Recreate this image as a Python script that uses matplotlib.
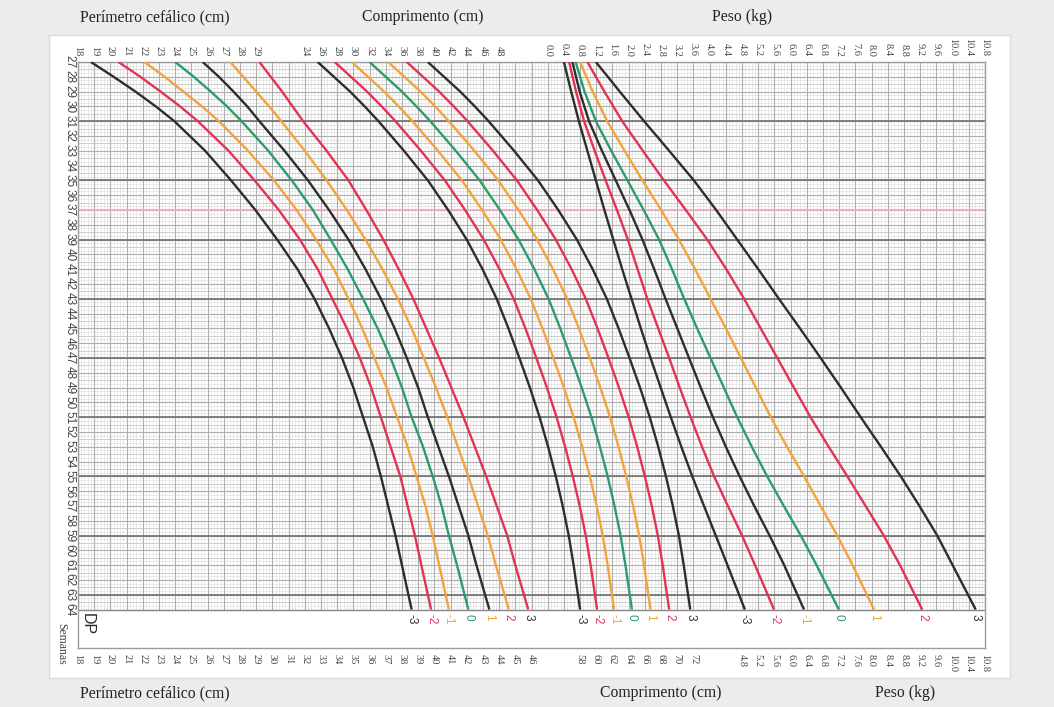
import numpy as np
import matplotlib
matplotlib.use('Agg')
import matplotlib.pyplot as plt
from matplotlib.patches import Rectangle

# ---------------- data ----------------
week_ticks = list(range(27, 65))
hc_top_ticks = list(range(18, 30))
hc_bottom_ticks = list(range(18, 47))
len_top_ticks = list(range(24, 49, 2))
len_bottom_ticks = list(range(58, 73, 2))
wt_top_ticks = [0.0, 0.4, 0.8, 1.2, 1.6, 2.0, 2.4, 2.8, 3.2, 3.6, 4.0, 4.4, 4.8, 5.2,
                5.6, 6.0, 6.4, 6.8, 7.2, 7.6, 8.0, 8.4, 8.8, 9.2, 9.6, 10.0, 10.4, 10.8]
wt_bottom_ticks = [4.8, 5.2, 5.6, 6.0, 6.4, 6.8, 7.2, 7.6, 8.0, 8.4, 8.8, 9.2, 9.6,
                   10.0, 10.4, 10.8]
sd_labels = ['-3', '-2', '-1', '0', '1', '2', '3']

# head circumference (cm) by week
hc_weeks = [27, 28, 29, 30, 31, 33, 35, 37, 39, 41, 43, 45, 47, 49, 51, 53, 55, 57, 59, 61, 64]
hc_m3 = [18.8, 20.2, 21.55, 22.8, 23.95, 25.85, 27.45, 28.95, 30.3, 31.55, 32.6, 33.5,
         34.3, 35.0, 35.6, 36.2, 36.7, 37.15, 37.6, 38.0, 38.6]
hc_m2 = [20.5, 21.85, 23.1, 24.3, 25.4, 27.3, 28.9, 30.4, 31.7, 32.8, 33.7, 34.6,
         35.4, 36.1, 36.7, 37.3, 37.9, 38.35, 38.8, 39.2, 39.8]
hc_m1 = [22.1, 23.35, 24.5, 25.65, 26.7, 28.5, 30.1, 31.5, 32.7, 33.8, 34.7, 35.55,
         36.3, 37.05, 37.7, 38.35, 38.9, 39.45, 39.9, 40.3, 40.9]
hc_0 = [24.0, 25.15, 26.2, 27.2, 28.1, 29.75, 31.2, 32.5, 33.6, 34.65, 35.6, 36.5,
        37.3, 38.0, 38.6, 39.3, 39.9, 40.45, 40.9, 41.4, 42.1]
hc_p1 = [25.7, 26.7, 27.6, 28.45, 29.2, 30.75, 32.2, 33.5, 34.7, 35.75, 36.7, 37.55,
         38.3, 39.0, 39.6, 40.25, 40.9, 41.5, 42.1, 42.6, 43.4]
hc_p2 = [27.4, 28.2, 29.0, 29.8, 30.55, 32.0, 33.35, 34.6, 35.75, 36.8, 37.75, 38.6,
         39.35, 40.1, 40.8, 41.45, 42.1, 42.7, 43.3, 43.8, 44.6]
hc_p3 = [29.2, 29.9, 30.6, 31.25, 31.9, 33.35, 34.7, 35.8, 36.85, 37.8, 38.7, 39.5,
         40.3, 41.05, 41.8, 42.5, 43.2, 43.85, 44.5, 45.0, 45.8]

# length (cm) by week
len_weeks = [27, 28, 29, 30, 31, 33, 35, 37, 39, 41, 43, 45, 47, 49, 51, 53, 55, 57, 59, 61, 64]
len_m3 = [25.6, 27.6, 29.6, 31.4, 33.1, 36.25, 39.2, 41.7, 44.0, 45.95, 47.7, 49.15,
          50.5, 51.8, 53.0, 54.05, 55.0, 55.85, 56.6, 57.2, 58.0]
len_m2 = [27.7, 29.7, 31.7, 33.5, 35.2, 38.35, 41.3, 43.8, 46.1, 48.05, 49.8, 51.25,
          52.6, 53.9, 55.1, 56.15, 57.1, 57.95, 58.7, 59.3, 60.1]
len_m1 = [29.8, 31.8, 33.8, 35.6, 37.3, 40.45, 43.4, 45.9, 48.2, 50.15, 51.9, 53.35,
          54.7, 56.0, 57.2, 58.25, 59.2, 60.05, 60.8, 61.4, 62.2]
len_0 = [32.0, 34.0, 36.0, 37.8, 39.5, 42.65, 45.6, 48.1, 50.4, 52.35, 54.1, 55.55,
         56.9, 58.2, 59.4, 60.45, 61.4, 62.25, 63.0, 63.6, 64.4]
len_p1 = [34.3, 36.3, 38.3, 40.1, 41.8, 44.95, 47.9, 50.4, 52.7, 54.65, 56.4, 57.85,
          59.2, 60.5, 61.7, 62.75, 63.7, 64.55, 65.3, 65.9, 66.7]
len_p2 = [36.6, 38.6, 40.6, 42.4, 44.1, 47.25, 50.2, 52.7, 55.0, 56.95, 58.7, 60.15,
          61.5, 62.8, 64.0, 65.05, 66.0, 66.85, 67.6, 68.2, 69.0]
len_p3 = [39.2, 41.2, 43.2, 45.0, 46.7, 49.85, 52.8, 55.3, 57.6, 59.55, 61.3, 62.75,
          64.1, 65.4, 66.6, 67.65, 68.6, 69.45, 70.2, 70.8, 71.6]

# weight (kg) by week
wt_weeks = [27, 29, 31, 33, 35, 37, 39, 41, 43, 45, 47, 49, 51, 53, 55, 57, 59, 61, 64]
wt_m3 = [0.40, 0.58, 0.77, 0.98, 1.19, 1.40, 1.62, 1.84, 2.07, 2.30, 2.54, 2.79, 3.04,
         3.30, 3.57, 3.86, 4.15, 4.44, 4.87]
wt_m2 = [0.53, 0.70, 0.90, 1.16, 1.43, 1.71, 1.98, 2.22, 2.46, 2.73, 3.00, 3.26, 3.53,
         3.81, 4.11, 4.45, 4.80, 5.12, 5.59]
wt_m1 = [0.61, 0.79, 1.02, 1.34, 1.68, 2.02, 2.34, 2.63, 2.91, 3.20, 3.49, 3.78, 4.08,
         4.40, 4.74, 5.10, 5.48, 5.84, 6.33]
wt_0 = [0.69, 0.91, 1.19, 1.57, 1.97, 2.37, 2.75, 3.07, 3.37, 3.69, 4.02, 4.35, 4.68,
        5.04, 5.42, 5.83, 6.25, 6.64, 7.19]
wt_p1 = [0.80, 1.11, 1.47, 1.90, 2.34, 2.80, 3.24, 3.64, 4.02, 4.40, 4.77, 5.14, 5.51,
         5.91, 6.33, 6.74, 7.15, 7.53, 8.06]
wt_p2 = [0.98, 1.40, 1.84, 2.35, 2.87, 3.41, 3.94, 4.41, 4.85, 5.26, 5.67, 6.08, 6.49,
         6.94, 7.40, 7.85, 8.30, 8.70, 9.25]
wt_p3 = [1.19, 1.78, 2.38, 3.00, 3.61, 4.16, 4.68, 5.20, 5.71, 6.23, 6.74, 7.24, 7.73,
         8.23, 8.72, 9.18, 9.62, 10.00, 10.57]

pink_week = 37

# ---------------- style ----------------
BLACK = '#2d2d2d'
RED = '#e23355'
ORANGE = '#f3a33c'
GREEN = '#2c9c6b'
label_colors = [BLACK, RED, ORANGE, GREEN, ORANGE, RED, BLACK]
hc_colors = [BLACK, RED, ORANGE, GREEN, BLACK, ORANGE, RED]
len_colors = [BLACK, RED, ORANGE, GREEN, ORANGE, RED, BLACK]
wt_colors = [BLACK, RED, BLACK, GREEN, ORANGE, RED, BLACK]

FW, FH = 1054, 707
fig = plt.figure(figsize=(FW / 100, FH / 100), dpi=100, facecolor='#ececec')

# white panel
fig.patches.append(Rectangle((49 / FW, 1 - 678 / FH), (1010 - 49) / FW, (678 - 35) / FH,
                             transform=fig.transFigure, facecolor='white',
                             edgecolor='#dcdcdc', lw=1, zorder=-1))

L, R, T, B = 78, 985, 62, 648
rect = [L / FW, 1 - B / FH, (R - L) / FW, (B - T) / FH]

serif = ['Liberation Serif', 'DejaVu Serif']
sans = ['Liberation Sans', 'DejaVu Sans']
TICKC = '#444444'

ax = fig.add_axes(rect)
ax.set_facecolor('white')
ax.set_xlim(18, 74)
ax.set_ylim(66.6, 27)
for s in ax.spines.values():
    s.set_color('#9c9c9c')
    s.set_linewidth(1.0)

# grid
ymin_g, ymax_g = 27, 64
ax.vlines(np.arange(18, 74.001, 0.2), ymin_g, ymax_g, colors='#e2e2e2', lw=0.5, zorder=1)
ax.hlines(np.arange(27, 64.001, 0.25), 18, 74, colors='#e2e2e2', lw=0.5, zorder=1)
ax.hlines(np.arange(27.5, 64, 1.0), 18, 74, colors='#cccccc', lw=0.6, zorder=1.1)
ax.vlines(np.arange(18, 74.001, 1.0), ymin_g, ymax_g, colors='#aeaeae', lw=0.8, zorder=1.2)
ax.hlines(np.arange(27, 64.001, 1.0), 18, 74, colors='#aeaeae', lw=0.8, zorder=1.2)
ax.hlines(np.arange(31, 64, 4.0), 18, 74, colors='#737373', lw=1.25, zorder=1.3)
ax.hlines([64], 18, 74, colors='#8a8a8a', lw=1.0, zorder=1.3)
ax.hlines([pink_week], 18, 74, colors='#f2a7bd', lw=1.2, zorder=1.4)

# week ticks
ax.set_yticks(week_ticks)
ax.set_yticklabels([str(w) for w in week_ticks], rotation=270, va='center',
                   fontsize=8.5, family=sans, color=TICKC)
ax.tick_params(axis='y', length=0, pad=2)

# head circumference ticks (base axis)
ax.set_xticks(hc_bottom_ticks)
ax.set_xticklabels([str(t) for t in hc_bottom_ticks])
ax.tick_params(axis='x', length=0, pad=4, labelsize=7.5, labelrotation=270,
               labelcolor=TICKC)
for t in ax.get_xticklabels():
    t.set_family(serif)
sec = ax.secondary_xaxis('top')
sec.set_xticks(hc_top_ticks, labels=[str(t) for t in hc_top_ticks])
sec.tick_params(length=0, pad=4, labelsize=7.5, labelrotation=270, labelcolor=TICKC)
sec.spines['top'].set_visible(False)
for t in sec.get_xticklabels():
    t.set_family(serif)


def overlay(xlim, bottom_ticks, top_ticks, fmt):
    a = fig.add_axes(rect, sharey=ax)
    a.set_xlim(*xlim)
    a.patch.set_alpha(0)
    for s in a.spines.values():
        s.set_visible(False)
    a.tick_params(axis='y', left=False, labelleft=False)
    a.set_xticks(bottom_ticks, labels=[fmt(t) for t in bottom_ticks])
    a.tick_params(axis='x', length=0, pad=4, labelsize=7.5, labelrotation=270,
                  labelcolor=TICKC)
    for t in a.get_xticklabels():
        t.set_family(serif)
    s2 = a.secondary_xaxis('top')
    s2.set_xticks(top_ticks, labels=[fmt(t) for t in top_ticks])
    s2.tick_params(length=0, pad=4, labelsize=7.5, labelrotation=270, labelcolor=TICKC)
    s2.spines['top'].set_visible(False)
    for t in s2.get_xticklabels():
        t.set_family(serif)
    return a


# grid unit u -> measure: length L = 2u - 40 ; weight W = 0.4(u - 47)
ax_len = overlay((2 * 18 - 40, 2 * 74 - 40), len_bottom_ticks, len_top_ticks, lambda t: str(t))
ax_wt = overlay((0.4 * (18 - 47), 0.4 * (74 - 47)), wt_bottom_ticks, wt_top_ticks,
                lambda t: f'{t:.1f}')


def draw(a, wks, series, colors):
    for vals, c, lab, lc in zip(series, colors, sd_labels, label_colors):
        a.plot(vals, wks, color=c, lw=1.7, zorder=5, solid_joinstyle='round',
               solid_capstyle='butt')
        a.text(vals[-1], 64.3, lab, rotation=270, color=lc, ha='center', va='top',
               fontsize=8.5, family=sans)


draw(ax, hc_weeks, [hc_m3, hc_m2, hc_m1, hc_0, hc_p1, hc_p2, hc_p3], hc_colors)
draw(ax_len, len_weeks, [len_m3, len_m2, len_m1, len_0, len_p1, len_p2, len_p3], len_colors)
draw(ax_wt, wt_weeks, [wt_m3, wt_m2, wt_m1, wt_0, wt_p1, wt_p2, wt_p3], wt_colors)

# DP and Semanas
ax.text(18.08, 64.25, 'DP', rotation=270, ha='left', va='top', fontsize=11.5,
        family=sans, color='#2a2a2a')
fig.text(61 / FW, 1 - 623 / FH, 'Semanas', rotation=270, ha='center', va='top',
         fontsize=8.5, family=serif, color=TICKC)

# titles
tkw = dict(fontsize=11.3, family=serif, color='#222222', va='center', ha='left')
fig.text(80 / FW, 1 - 17 / FH, 'Perímetro cefálico (cm)', **tkw)
fig.text(362 / FW, 1 - 17 / FH, 'Comprimento (cm)', **tkw)
fig.text(712 / FW, 1 - 17 / FH, 'Peso (kg)', **tkw)
fig.text(80 / FW, 1 - 693 / FH, 'Perímetro cefálico (cm)', **tkw)
fig.text(600 / FW, 1 - 693 / FH, 'Comprimento (cm)', **tkw)
fig.text(875 / FW, 1 - 693 / FH, 'Peso (kg)', **tkw)

fig.savefig('out.png', dpi=100, facecolor=fig.get_facecolor())
